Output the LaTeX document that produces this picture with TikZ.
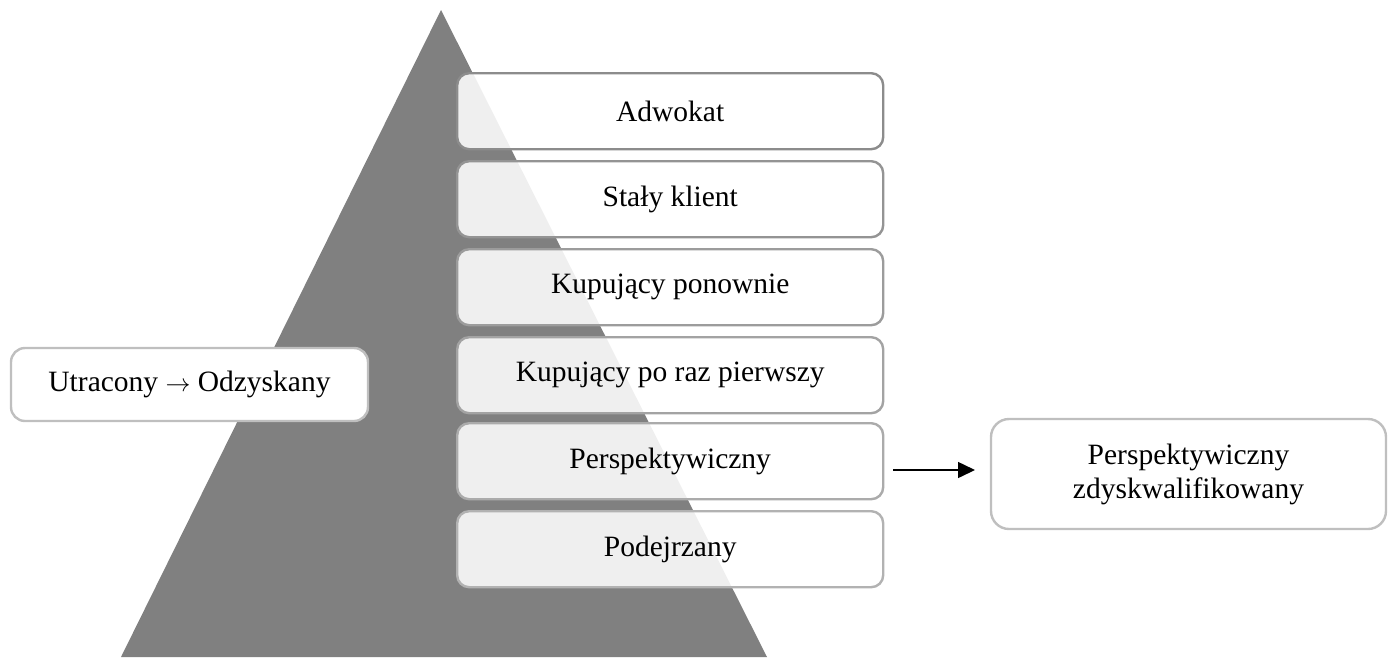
\documentclass[tikz,border=0pt]{standalone}
\usepackage{fontspec}
\setmainfont{Liberation Serif}
\usetikzlibrary{arrows.meta}
\begin{document}
\begin{tikzpicture}[x=1pt,y=-1pt,
  level/.style={draw=#1, line width=2.4pt, rounded corners=12pt, fill=white,
    fill opacity=0.88, text opacity=1, minimum width=426pt, minimum height=76pt,
    anchor=north west, inner sep=0pt, font=\fontsize{29.5}{34}\selectfont},
  sidebox/.style={draw=black!25, line width=2.4pt, rounded corners=14pt, fill=white,
    inner sep=0pt, align=center, font=\fontsize{29.5}{34}\selectfont},
  link/.style={line width=1.5pt, -{Triangle[length=17pt,width=16pt]}}]
  \useasboundingbox (0,0) rectangle (1390,657);
  % pyramid
  \fill[black!50] (441,10) -- (767,657) -- (121,657) -- cycle;
  % levels, top to bottom
  \node[level=black!45] (adw) at (456,72) {Adwokat};
  \node[level=black!42] (sta) at (456,160) {Stały klient};
  \node[level=black!39] (pon) at (456,248) {Kupujący ponownie};
  \node[level=black!36] (pie) at (456,336) {Kupujący po raz pierwszy};
  \node[level=black!33] (per) at (456,422) {Perspektywiczny};
  \node[level=black!30] (pod) at (456,510) {Podejrzany};
  % side boxes
  \node[sidebox, minimum width=357pt, minimum height=73pt] (utr) at (189.5,384.5) {Utracony $\rightarrow$ Odzyskany};
  \node[sidebox, minimum width=395pt, minimum height=110pt, rounded corners=18pt] (dis) at (1188.5,474)
    {Perspektywiczny\\zdyskwalifikowany};
  \coordinate (a0) at (893,470);
  \coordinate (a1) at (975,470);
  \draw[link] (a0) -- (a1);
\end{tikzpicture}
\end{document}
